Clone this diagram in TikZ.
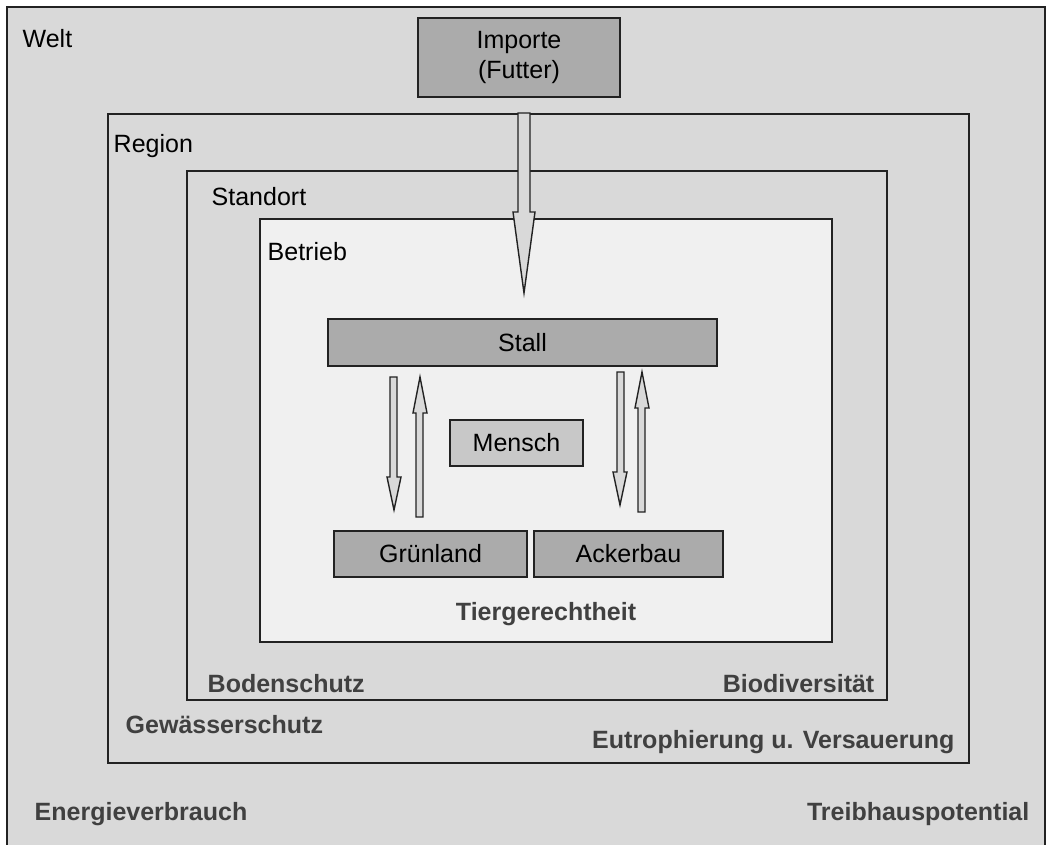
\documentclass[tikz,border=0pt]{standalone}
\usepackage{fontspec}
\setmainfont{Liberation Sans}
\definecolor{outergrey}{HTML}{D9D9D9}
\definecolor{innergrey}{HTML}{F0F0F0}
\definecolor{boxgrey}{HTML}{ABABAB}
\definecolor{menschgrey}{HTML}{C8C8C8}
\definecolor{arrowgrey}{HTML}{D9D9D9}
\definecolor{labelgrey}{HTML}{404040}
\definecolor{edge}{HTML}{222222}
\begin{document}
\begin{tikzpicture}[x=1pt,y=-1pt,line width=1.4pt,
  zone/.style={draw=edge,fill=#1,anchor=north west,inner sep=0pt,outer sep=0pt},
  unit/.style={draw=edge,fill=#1,anchor=north west,inner sep=0pt,outer sep=0pt,
    font=\fontsize{25}{30}\selectfont,text=black,align=center},
  zonelabel/.style={anchor=base west,inner sep=0pt,font=\fontsize{25}{30}\selectfont,text=black},
  critlabel/.style={inner sep=0pt,font=\fontsize{25}{30}\selectfont\bfseries,text=labelgrey},
  blockarrow/.style={draw=edge,fill=arrowgrey,line join=miter}]
\useasboundingbox (0,0) rectangle (1052,845);
\fill[white] (0,0) rectangle (1052,845);
\clip (0,0) rectangle (1052,845);
% zones
\node[zone=outergrey,minimum width=1038pt,minimum height=860pt] (welt) at (7,7) {};
\node[zone=outergrey,minimum width=861pt,minimum height=649pt] (region) at (108,114) {};
\node[zone=outergrey,minimum width=700pt,minimum height=529pt] (standort) at (187,171) {};
\node[zone=innergrey,minimum width=572pt,minimum height=423pt] (betrieb) at (260,219) {};
% zone labels
\node[zonelabel] (tWelt) at (22,48) {Welt};
\node[zonelabel] (tRegion) at (113,153) {Region};
\node[zonelabel] (tStandort) at (211,206) {Standort};
\node[zonelabel] (tBetrieb) at (267,260) {Betrieb};
% boxes
\node[unit=boxgrey,minimum width=202pt,minimum height=79pt] (importe) at (418,18) {Importe\\(Futter)};
\node[unit=boxgrey,minimum width=389pt,minimum height=47pt] (stall) at (328,319) {Stall};
\node[unit=menschgrey,minimum width=133pt,minimum height=46pt] (mensch) at (450,420) {Mensch};
\node[unit=boxgrey,minimum width=193pt,minimum height=46pt] (gruenland) at (334,531) {Grünland};
\node[unit=boxgrey,minimum width=189pt,minimum height=46pt] (ackerbau) at (534,531) {Ackerbau};
% block arrows
\draw[blockarrow] (518,113) -- (518,212) -- (513,212) -- (524,293) -- (535,212) -- (530,212) -- (530,113) -- cycle;
\draw[blockarrow] (390,377) -- (390,477) -- (387,477) -- (394,510) -- (401,477) -- (397,477) -- (397,377) -- cycle;
\draw[blockarrow] (416,517) -- (416,413) -- (413,413) -- (420,377) -- (427,413) -- (423,413) -- (423,517) -- cycle;
\draw[blockarrow] (617,372) -- (617,472) -- (613,472) -- (620,505) -- (627,472) -- (624,472) -- (624,372) -- cycle;
\draw[blockarrow] (638,512) -- (638,408) -- (635,408) -- (642,372) -- (649,408) -- (645,408) -- (645,512) -- cycle;
% criteria labels
\node[critlabel,anchor=base] (tTier) at (546,620) {Tiergerechtheit};
\node[critlabel,anchor=base west] (tBoden) at (207,692) {Bodenschutz};
\node[critlabel,anchor=base east] (tBio) at (875,692) {Biodiversität};
\node[critlabel,anchor=base west] (tGew) at (125,733) {Gewässerschutz};
\node[critlabel,anchor=base east] (tEutro) at (955,748) {Eutrophierung u. Versauerung};
\node[critlabel,anchor=base west] (tEnergie) at (34,820) {Energieverbrauch};
\node[critlabel,anchor=base east] (tTreib) at (1030,820) {Treibhauspotential};
\end{tikzpicture}
\end{document}
